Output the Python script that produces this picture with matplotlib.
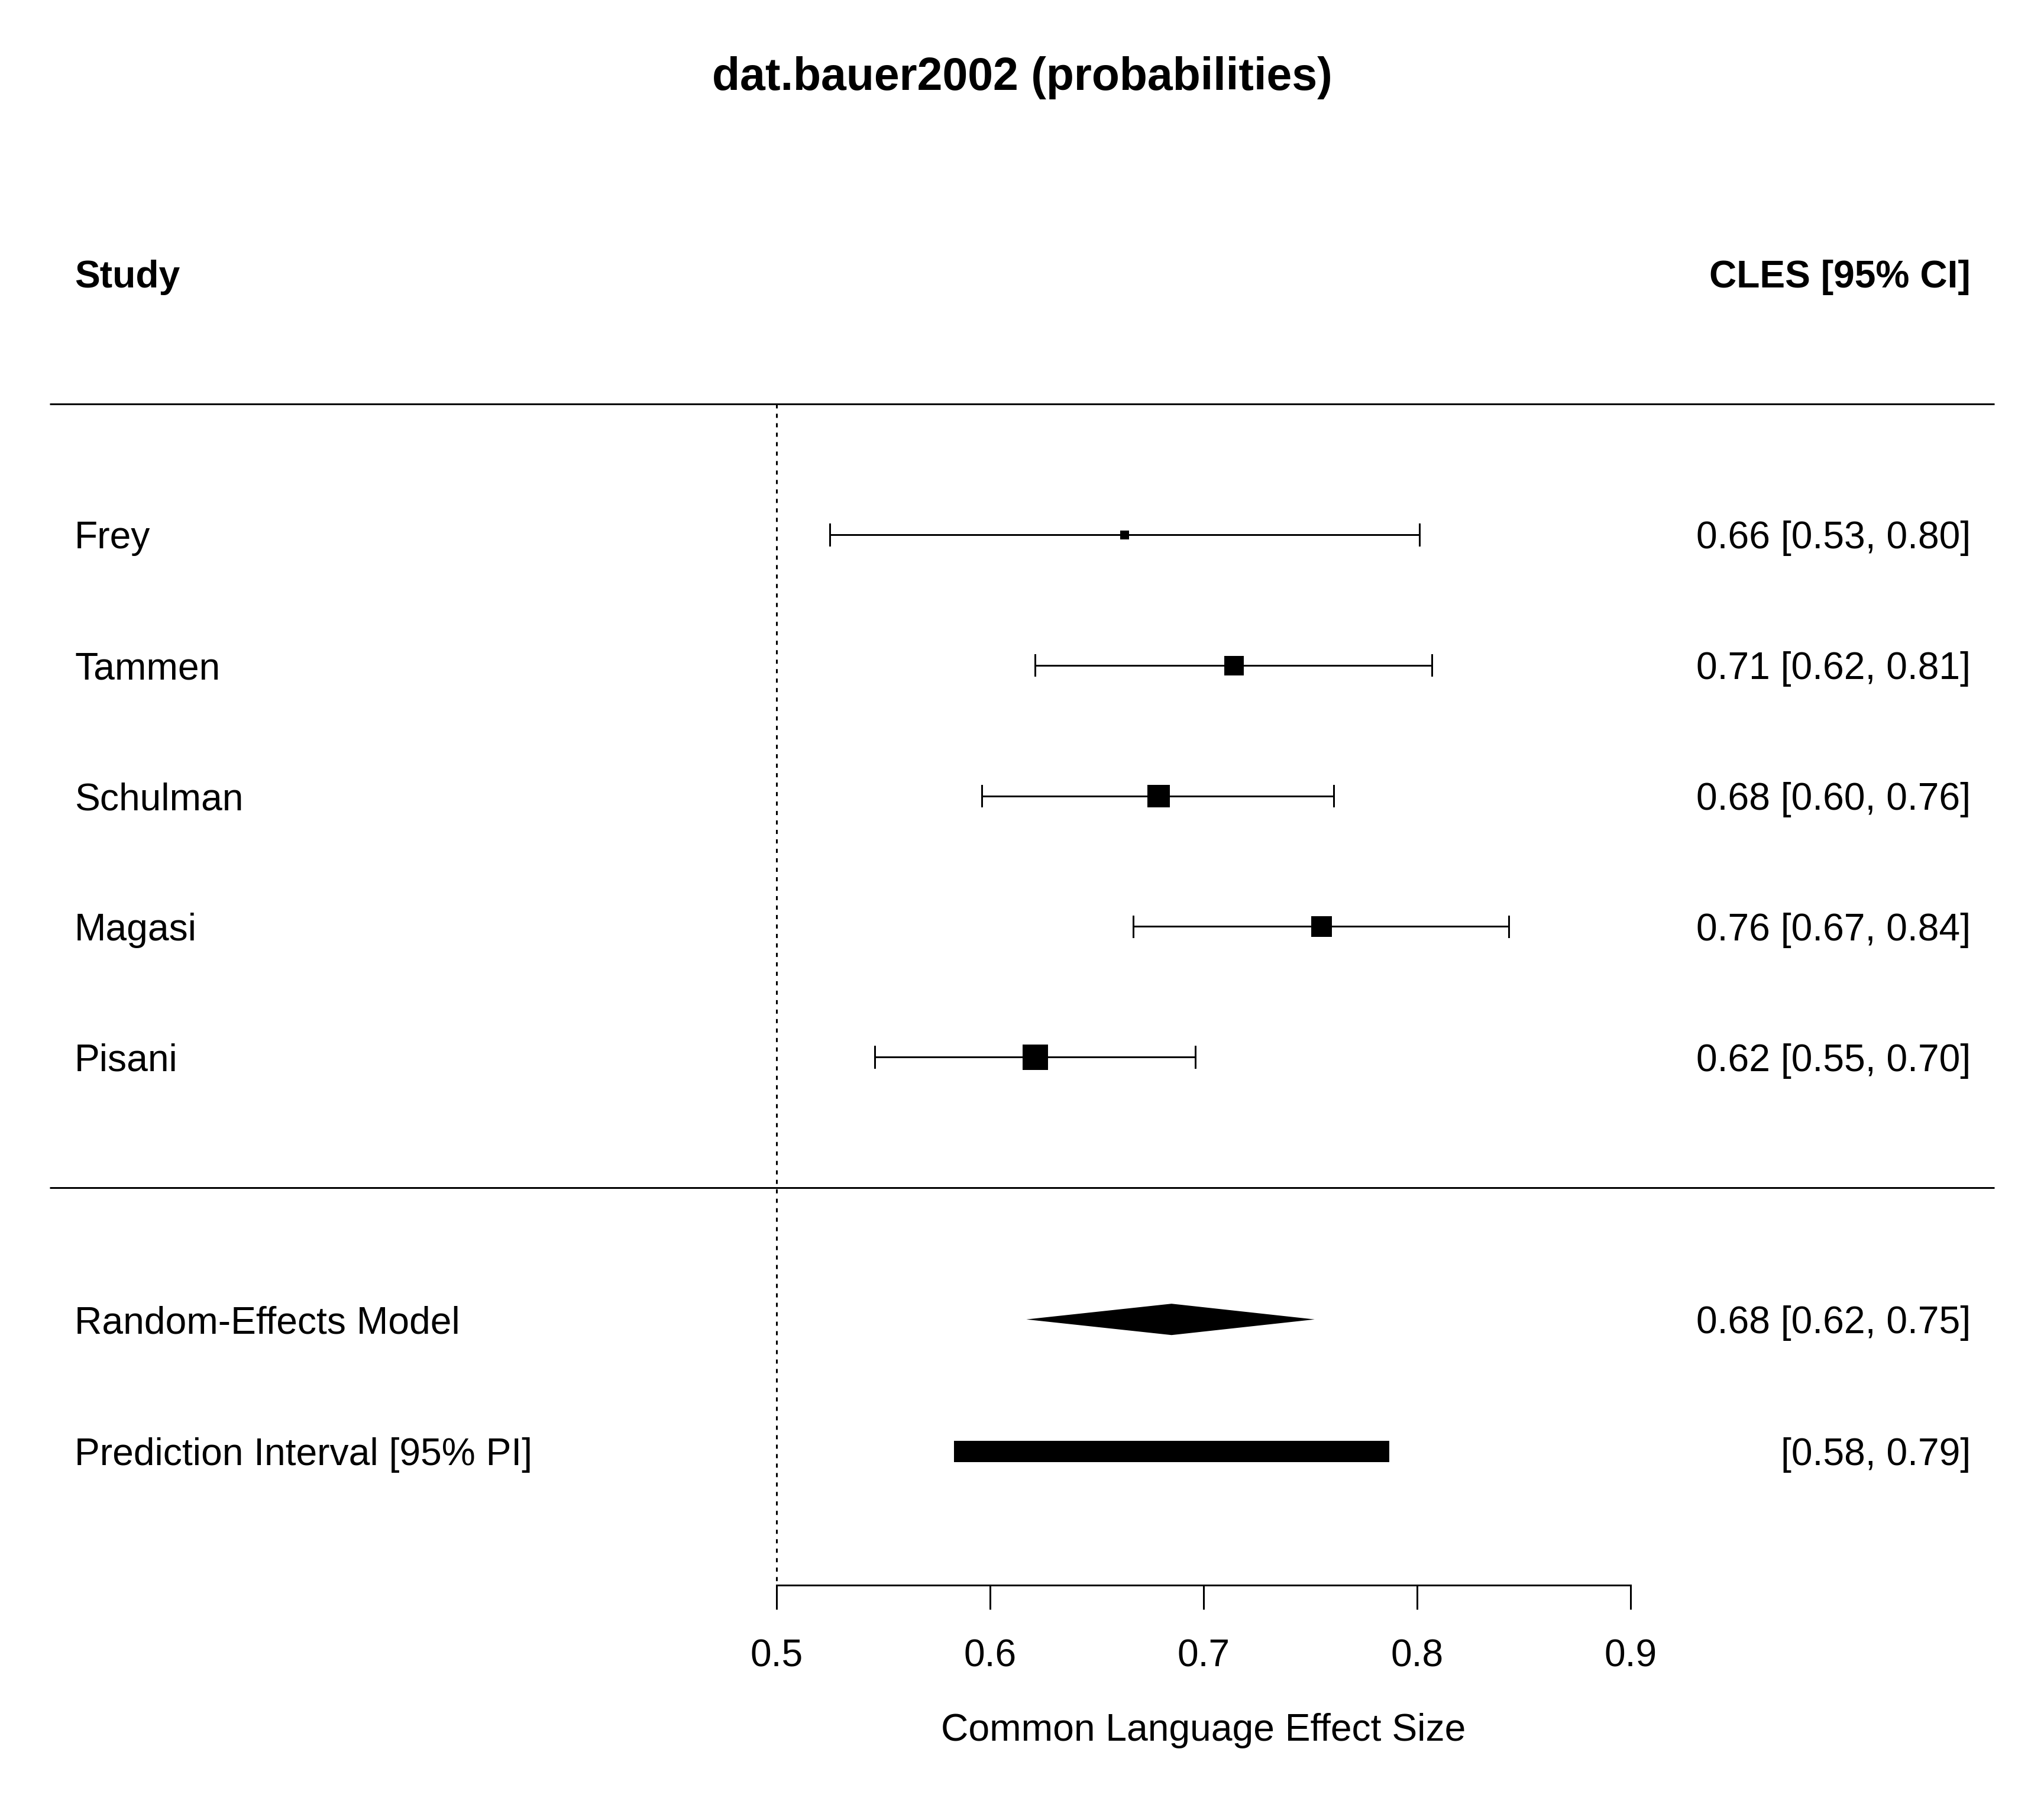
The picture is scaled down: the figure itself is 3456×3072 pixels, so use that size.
import matplotlib
matplotlib.use("Agg")
import matplotlib.pyplot as plt
import numpy as np

plt.rcParams['font.family'] = ['Liberation Sans', 'DejaVu Sans']

title = "dat.bauer2002 (probabilities)"
studies = ["Frey", "Tammen", "Schulman", "Magasi", "Pisani"]
est = [0.663, 0.714, 0.679, 0.755, 0.621]
ci_lb = [0.525, 0.621, 0.596, 0.667, 0.546]
ci_ub = [0.801, 0.807, 0.761, 0.843, 0.696]
weights = [15, 33, 38, 35, 43]
labels_right = ["0.66 [0.53, 0.80]", "0.71 [0.62, 0.81]", "0.68 [0.60, 0.76]",
                "0.76 [0.67, 0.84]", "0.62 [0.55, 0.70]"]
re_est, re_lb, re_ub = 0.685, 0.617, 0.752
pi_lb, pi_ub = 0.583, 0.787
re_label = "0.68 [0.62, 0.75]"
pi_label = "[0.58, 0.79]"
xticks = [0.5, 0.6, 0.7, 0.8, 0.9]
xtick_labels = ["0.5", "0.6", "0.7", "0.8", "0.9"]
xlabel = "Common Language Effect Size"

DPI = 300
W, H = 3456, 3072
fig = plt.figure(figsize=(W / DPI, H / DPI), dpi=DPI)
ax = fig.add_axes([0, 0, 1, 1])

# coordinate mapping (pixels -> data)
px_per_x = 3610.0
x0 = 0.5 - 1313 / px_per_x
x1 = 0.5 + (W - 1313) / px_per_x
px_per_y = 220.75
ytop = 8 + 904 / px_per_y
ybot = 8 - (H - 904) / px_per_y
ax.set_xlim(x0, x1)
ax.set_ylim(ybot, ytop)

def pt(px):
    return px * 72.0 / DPI

fs = 15.4
lw = pt(3)
rows = np.arange(len(studies))[::-1] + 4  # 8..4
y_re = 1.99
y_pi = 0.98
x_left = x0 + 126 / px_per_x
x_right = x0 + 3332 / px_per_x
x_line_l = x0 + 84 / px_per_x
x_line_r = x0 + 3372 / px_per_x
y_axis = 8 - (2680 - 904) / px_per_y

# horizontal separators
ax.plot([x_line_l, x_line_r], [9, 9], color='black', lw=lw, solid_capstyle='butt')
ax.plot([x_line_l, x_line_r], [3, 3], color='black', lw=lw, solid_capstyle='butt')

# reference line
ax.plot([0.5, 0.5], [9, y_axis], color='black', lw=lw, linestyle=(0, (2.33, 3.0)))

# studies
cap = 0.08
for i, y in enumerate(rows):
    ax.plot([ci_lb[i], ci_ub[i]], [y, y], color='black', lw=lw, solid_capstyle='butt')
    ax.plot([ci_lb[i], ci_lb[i]], [y - cap, y + cap], color='black', lw=lw)
    ax.plot([ci_ub[i], ci_ub[i]], [y - cap, y + cap], color='black', lw=lw)
    ax.plot([est[i]], [y], marker='s', color='black', markersize=pt(weights[i]),
            markeredgewidth=0, linestyle='none')
    ax.text(x_left, y, studies[i], ha='left', va='center_baseline', fontsize=fs)
    ax.text(x_right, y, labels_right[i], ha='right', va='center_baseline', fontsize=fs)

# RE model diamond
dh = 0.12
ax.fill([re_lb, re_est, re_ub, re_est], [y_re, y_re + dh, y_re, y_re - dh], color='black', lw=0)
ax.text(x_left, y_re, "Random-Effects Model", ha='left', va='center_baseline', fontsize=fs)
ax.text(x_right, y_re, re_label, ha='right', va='center_baseline', fontsize=fs)

# prediction interval bar
ax.barh([y_pi], [pi_ub - pi_lb], left=[pi_lb], height=36 / px_per_y, color='black', lw=0)
ax.text(x_left, y_pi, "Prediction Interval [95% PI]", ha='left', va='center_baseline', fontsize=fs)
ax.text(x_right, y_pi, pi_label, ha='right', va='center_baseline', fontsize=fs)

# headers
ax.text(x_left, 10, "Study", ha='left', va='center_baseline', fontsize=fs, fontweight='bold')
ax.text(x_right, 10, "CLES [95% CI]", ha='right', va='center_baseline', fontsize=fs, fontweight='bold')

# title
ax.text((x0 + x1) / 2, 8 + (904 - 124) / px_per_y, title, ha='center', va='center_baseline',
        fontsize=fs * 1.2, fontweight='bold')

# x axis
for s in ['left', 'right', 'top']:
    ax.spines[s].set_visible(False)
ax.spines['bottom'].set_position(('data', y_axis))
ax.spines['bottom'].set_bounds(0.5, 0.9)
ax.spines['bottom'].set_linewidth(lw)
ax.set_xticks(xticks)
ax.set_xticklabels(xtick_labels, fontsize=fs)
ax.tick_params(axis='x', direction='out', length=pt(41), width=lw, pad=pt(50))
ax.set_yticks([])
ax.patch.set_alpha(0)

ax.text(0.7, 8 - (2919 - 904) / px_per_y, xlabel, ha='center', va='center_baseline', fontsize=fs)

fig.savefig("out.png", dpi=DPI, facecolor='white')
